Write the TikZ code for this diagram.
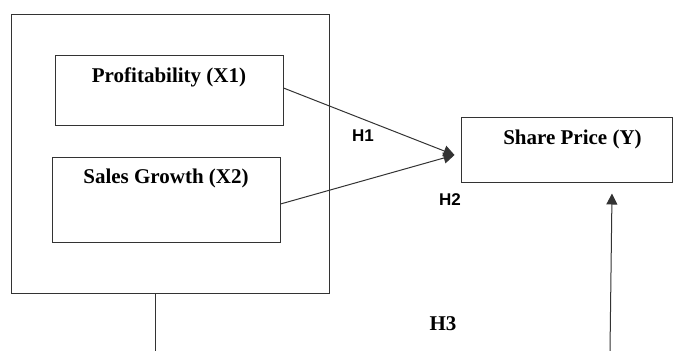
\documentclass[tikz,border=0pt]{standalone}
\usepackage{fontspec}
\setmainfont{Liberation Serif}
\newfontfamily\hypfont{Liberation Sans}
\usetikzlibrary{positioning, arrows.meta, calc}

\begin{document}
\begin{tikzpicture}[x=1pt, y=-1pt,
		box/.style={rectangle, draw=black!80, line width=1pt, inner xsep=0pt, inner ysep=0pt,
			font=\fontsize{21}{23}\selectfont\bfseries, align=center},
		varbox/.style={box, minimum width=228pt},
		arrow/.style={-{Triangle[length=11pt, width=11pt]}, draw=black!80, line width=1pt},
		link/.style={draw=black!80, line width=1pt},
		hyp/.style={font=\hypfont\fontsize{17}{19}\selectfont\bfseries},
		]
		\useasboundingbox (0,0) rectangle (673,351);
		
		% Independent variables (left)
		\node[box, minimum width=318pt, minimum height=279pt] (frame) at (170,153.5) {};
		\node[varbox, text height=27pt, text depth=43pt] (profit) at (169,90) {Profitability (X1)};
		\node[varbox, text height=26pt, text depth=59pt] (sales) at (166,199.5) {Sales Growth (X2)};
		
		% Dependent variable
		\node[box, minimum width=211pt, text height=27pt, text depth=38pt] (price) at (566.5,149.5) {\hspace*{12pt}Share Price (Y)};
		
		% Arrows into share price
		\coordinate (hub) at ($(price.west)+(-6,5.5)$);
		\draw[arrow] ([yshift=2]profit.east) -- (hub);
		\draw[arrow] ([yshift=-4.5]sales.east) -- (hub);
		
		% H3 lines
		\coordinate (down) at (155,351);
		\coordinate (up) at (610,351);
		\draw[link] (frame.south -| down) -- (down);
		\draw[arrow] (up) -- ($(price.south)+(45.5,11)$);
		
		% Hypotheses
		\node[hyp] (h1) at (363,136) {H1};
		\node[hyp] (h2) at (450,200) {H2};
		\node[font=\fontsize{21}{23}\selectfont\bfseries] (h3) at (443,324) {H3};
	\end{tikzpicture}
\end{document}
